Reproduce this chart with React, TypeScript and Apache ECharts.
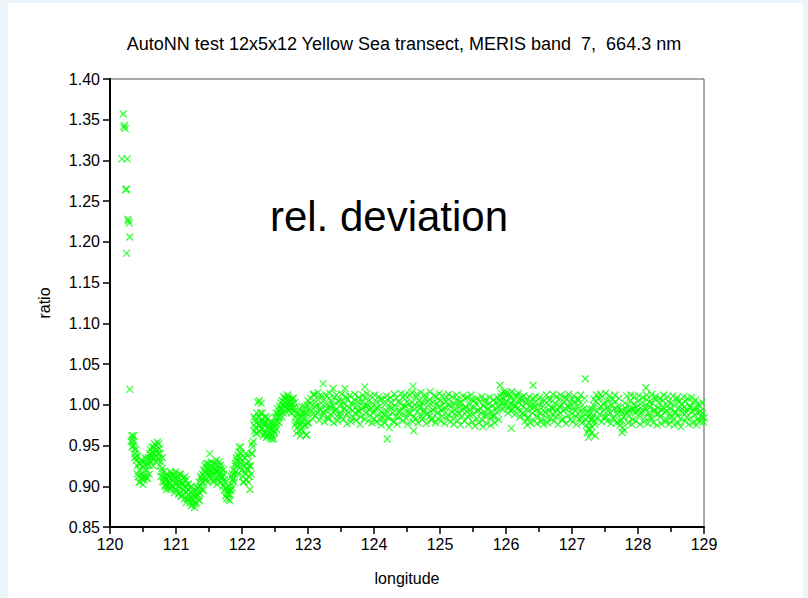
import React, { useEffect, useRef } from "react";
import * as echarts from "echarts";

const titleText = "AutoNN test 12x5x12 Yellow Sea transect, MERIS band  7,  664.3 nm";
const annotation = "rel. deviation";
const xName = "longitude";
const yName = "ratio";
const xTicks = [120, 121, 122, 123, 124, 125, 126, 127, 128, 129];
const yTicks = [0.85, 0.9, 0.95, 1.0, 1.05, 1.1, 1.15, 1.2, 1.25, 1.3, 1.35, 1.4];

const coastOutliers: number[][] = [
  [120.20, 1.357], [120.21, 1.341], [120.22, 1.343], [120.23, 1.339], [120.18, 1.302], [120.26, 1.302],
  [120.24, 1.264], [120.25, 1.265], [120.27, 1.228], [120.29, 1.223], [120.28, 1.226], [120.30, 1.206],
  [120.25, 1.186], [120.30, 1.019],
];

const nearShore: number[][] = [
  [120.32, .955], [120.33, .962], [120.34, .958], [120.35, .950], [120.36, .955], [120.37, .946], [120.38, .940],
  [120.39, .936], [120.40, .932], [120.41, .925], [120.42, .937], [120.43, .912], [120.44, .905], [120.45, .920],
  [120.46, .928], [120.47, .915], [120.48, .910], [120.49, .924], [120.50, .902], [120.51, .930], [120.52, .918],
  [120.53, .912], [120.54, .926], [120.55, .933], [120.56, .920], [120.57, .910], [120.58, .935], [120.59, .926],
  [120.60, .940], [120.61, .945], [120.62, .930], [120.63, .938], [120.64, .942], [120.65, .935], [120.66, .948],
  [120.67, .940], [120.68, .944], [120.69, .938], [120.70, .950], [120.71, .945], [120.72, .932], [120.73, .940],
  [120.74, .952], [120.75, .946], [120.76, .925], [120.77, .930], [120.78, .918], [120.79, .922], [120.80, .906],
  [120.81, .910], [120.82, .905], [120.83, .912], [120.84, .902], [120.85, .908], [120.86, .915], [120.87, .900],
  [120.88, .906], [120.89, .912], [120.90, .897], [120.91, .904], [120.92, .910], [120.93, .916], [120.94, .908],
  [120.95, .900], [120.96, .912], [120.97, .905], [120.98, .896], [120.99, .910], [121.00, .902],
  [120.335, .948], [120.355, .962], [120.375, .935], [120.395, .945], [120.415, .915], [120.435, .928], [120.455, .905],
  [120.475, .932], [120.495, .912], [120.515, .908], [120.535, .935], [120.555, .910], [120.575, .928], [120.595, .915],
  [120.615, .935], [120.635, .948], [120.655, .925], [120.675, .952], [120.695, .930], [120.715, .954], [120.735, .935],
  [120.755, .940], [120.775, .912], [120.795, .935], [120.815, .918], [120.835, .900], [120.855, .896], [120.875, .913],
  [120.895, .904], [120.915, .918], [120.935, .898], [120.955, .915], [120.975, .892], [120.995, .918],
];

const trough: number[][] = [
  [121.01, .895], [121.02, .908], [121.03, .912], [121.04, .900], [121.05, .892], [121.06, .905], [121.07, .915],
  [121.08, .898], [121.09, .888], [121.10, .902], [121.11, .910], [121.12, .895], [121.13, .885], [121.14, .900],
  [121.15, .908], [121.16, .892], [121.17, .884], [121.18, .896], [121.19, .903], [121.20, .889], [121.21, .880],
  [121.22, .893], [121.23, .900], [121.24, .886], [121.25, .878], [121.26, .890], [121.27, .882], [121.28, .874],
  [121.29, .887], [121.30, .895], [121.31, .880], [121.32, .890], [121.33, .898], [121.34, .884], [121.35, .905],
  [121.36, .892], [121.37, .900], [121.38, .910], [121.39, .896], [121.40, .915], [121.41, .905], [121.42, .920],
  [121.43, .912], [121.44, .925], [121.45, .918], [121.46, .908], [121.47, .922], [121.48, .915], [121.49, .928],
  [121.50, .912],
  [121.015, .905], [121.035, .890], [121.055, .915], [121.075, .888], [121.095, .905], [121.115, .895], [121.135, .912],
  [121.155, .880], [121.175, .902], [121.195, .885], [121.215, .898], [121.235, .876], [121.255, .895], [121.275, .888],
  [121.295, .878], [121.315, .898], [121.335, .888], [121.355, .882], [121.375, .912], [121.395, .905], [121.415, .895],
  [121.435, .918], [121.455, .928], [121.475, .905], [121.495, .920],
];

const shelfEdge: number[][] = [
  [121.51, .940], [121.52, .920], [121.53, .910], [121.54, .925], [121.55, .918], [121.56, .905], [121.57, .922],
  [121.58, .915], [121.59, .928], [121.60, .910], [121.61, .920], [121.62, .902], [121.63, .918], [121.64, .925],
  [121.65, .912], [121.66, .930], [121.67, .916], [121.68, .905], [121.69, .922], [121.70, .912], [121.71, .900],
  [121.72, .915], [121.73, .895], [121.74, .905], [121.75, .888], [121.76, .898], [121.77, .885], [121.78, .892],
  [121.79, .900], [121.80, .884], [121.81, .895], [121.82, .890], [121.83, .903], [121.84, .912], [121.85, .898],
  [121.86, .908], [121.87, .920], [121.88, .905], [121.89, .915], [121.90, .928], [121.91, .918], [121.92, .932],
  [121.93, .925], [121.94, .938], [121.95, .930], [121.96, .942], [121.97, .935], [121.98, .948], [121.99, .940],
  [122.00, .920], [122.01, .912], [122.02, .925], [122.03, .905], [122.04, .935], [122.05, .915], [122.06, .928],
  [122.07, .908], [122.08, .938], [122.09, .920], [122.10, .930], [122.11, .912], [122.12, .896], [122.13, .925],
  [122.14, .940], [122.15, .952], [122.16, .948], [122.17, .955],
  [121.515, .915], [121.535, .930], [121.555, .928], [121.575, .908], [121.595, .918], [121.615, .932], [121.635, .908],
  [121.655, .920], [121.675, .926], [121.695, .910], [121.715, .920], [121.735, .908], [121.755, .898], [121.775, .895],
  [121.795, .890], [121.815, .882], [121.835, .895], [121.855, .915], [121.875, .910], [121.895, .925], [121.915, .935],
  [121.935, .915], [121.955, .948], [121.975, .925], [121.995, .930], [122.015, .905], [122.035, .918], [122.055, .940],
  [122.075, .922], [122.095, .905], [122.115, .925], [122.135, .915], [122.155, .940],
];

const transition: number[][] = [
  [122.18, .975], [122.19, .968], [122.20, .982], [122.21, .972], [122.22, .978], [122.23, .965], [122.24, 1.003],
  [122.25, .985], [122.26, 1.005], [122.27, .975], [122.28, .990], [122.29, 1.002], [122.30, .970], [122.31, .982],
  [122.32, .962], [122.33, .975], [122.34, .985], [122.35, .968], [122.36, .978], [122.37, .960], [122.38, .972],
  [122.39, .983], [122.40, .965], [122.41, .975], [122.42, .960], [122.43, .970], [122.44, .965], [122.45, .978],
  [122.46, .962], [122.47, .970], [122.48, .958], [122.49, .966], [122.50, .985], [122.51, .975], [122.52, .990],
  [122.53, .980], [122.54, .995], [122.55, .985], [122.56, .992], [122.57, .998], [122.58, .988], [122.59, 1.002],
  [122.60, .995], [122.61, 1.005], [122.62, .990], [122.63, 1.010], [122.64, .998], [122.65, 1.003], [122.66, .992],
  [122.67, 1.008], [122.68, .996], [122.69, 1.012], [122.70, 1.000], [122.71, .993], [122.72, 1.006], [122.73, .998],
  [122.74, 1.004], [122.75, .990], [122.76, 1.002], [122.77, .995], [122.78, 1.008], [122.79, .997], [122.80, 1.003],
  [122.81, .985], [122.82, .978], [122.83, .990], [122.84, .972], [122.85, .982], [122.86, .968], [122.87, .995],
  [122.88, .975], [122.89, .988], [122.90, .970], [122.91, .998], [122.92, .980], [122.93, .992], [122.94, .975],
  [122.95, .998], [122.96, .985], [122.97, .963], [122.98, .990], [122.99, .978], [123.00, 1.005],
  [122.185, .985], [122.205, .965], [122.225, .990], [122.245, .975], [122.265, .968], [122.285, .980], [122.305, .990],
  [122.325, .978], [122.345, .965], [122.365, .985], [122.385, .962], [122.405, .978], [122.425, .972], [122.445, .958],
  [122.465, .975], [122.485, .968], [122.505, .978], [122.525, .970], [122.545, .985], [122.565, .978], [122.585, .995],
  [122.605, .985], [122.625, 1.000], [122.645, 1.008], [122.665, .998], [122.685, 1.005], [122.705, 1.010], [122.725, .995],
  [122.745, 1.000], [122.765, 1.008], [122.785, .992], [122.805, .975], [122.825, .965], [122.845, .988], [122.865, .978],
  [122.885, .962], [122.905, .985], [122.925, .968], [122.945, .990], [122.965, .975], [122.985, 1.000],
];

const openSea: number[][] = [
  [123.02, .995], [123.04, 1.008], [123.06, .988], [123.08, 1.012], [123.10, .998], [123.12, 1.004], [123.14, .990],
  [123.16, 1.010], [123.18, .996], [123.20, 1.002], [123.22, .987], [123.24, 1.006], [123.26, .993], [123.28, 1.000],
  [123.30, .985], [123.32, 1.008], [123.34, .997], [123.36, 1.003], [123.38, .991], [123.40, 1.009], [123.42, .994],
  [123.44, .986], [123.46, 1.005], [123.48, .998], [123.50, .990], [123.52, 1.004], [123.54, .995], [123.56, 1.001],
  [123.58, .988], [123.60, 1.007], [123.62, .996], [123.64, .984], [123.66, 1.002], [123.68, .993], [123.70, 1.006],
  [123.72, .989], [123.74, .999], [123.76, 1.004], [123.78, .992], [123.80, .985], [123.82, 1.003], [123.84, .997],
  [123.86, 1.008], [123.88, .990], [123.90, .999], [123.92, 1.005], [123.94, .987], [123.96, .996], [123.98, 1.002],
  [124.00, .983], [124.02, .995], [124.04, 1.004], [124.06, .988], [124.08, .998], [124.10, 1.007], [124.12, .991],
  [124.14, .984], [124.16, 1.000], [124.18, .993], [124.20, 1.006], [124.22, .986], [124.24, .997], [124.26, 1.003],
  [124.28, .990], [124.30, .980], [124.32, .999], [124.34, 1.008], [124.36, .992], [124.38, .985], [124.40, 1.002],
  [124.42, .995], [124.44, 1.009], [124.46, .988], [124.48, .998], [124.50, 1.004], [124.52, .990], [124.54, 1.012],
  [124.56, .996], [124.58, 1.003], [124.60, .985], [124.62, 1.000], [124.64, 1.010], [124.66, .992], [124.68, 1.005],
  [124.70, .997], [124.72, .986], [124.74, 1.002], [124.76, .994], [124.78, 1.008], [124.80, .989], [124.82, .999],
  [124.84, 1.006], [124.86, .992], [124.88, .984], [124.90, 1.003], [124.92, .996], [124.94, 1.010], [124.96, .990],
  [124.98, .998], [125.00, 1.005], [125.02, .993], [125.04, .986], [125.06, 1.002], [125.08, .996], [125.10, 1.009],
  [125.12, .988], [125.14, .999], [125.16, 1.004], [125.18, .991], [125.20, .983], [125.22, 1.001], [125.24, .995],
  [125.26, 1.007], [125.28, .989], [125.30, .998], [125.32, 1.003], [125.34, .986], [125.36, .996], [125.38, 1.008],
  [125.40, .992], [125.42, .985], [125.44, 1.000], [125.46, .994], [125.48, 1.006], [125.50, .988], [125.52, .997],
  [125.54, 1.002], [125.56, .983], [125.58, .993], [125.60, 1.004], [125.62, .990], [125.64, .981], [125.66, .998],
  [125.68, 1.003], [125.70, .987], [125.72, .995], [125.74, 1.001], [125.76, .984], [125.78, .992], [125.80, .999],
  [125.82, .986], [125.84, 1.003], [125.86, .991], [125.88, .997], [125.90, 1.005], [125.92, 1.010], [125.94, 1.003],
  [125.96, 1.008], [125.98, .998], [126.00, 1.012], [126.02, 1.004], [126.04, .997], [126.06, 1.009], [126.08, 1.001],
  [126.10, .994], [126.12, 1.006], [126.14, 1.000], [126.16, 1.010], [126.18, .996], [126.20, 1.003], [126.22, .992],
  [126.24, 1.005], [126.26, .998], [126.28, .988], [126.30, 1.002], [126.32, .994], [126.34, .985], [126.36, .999],
  [126.38, 1.004], [126.40, .990], [126.42, .997], [126.44, 1.003], [126.46, .986], [126.48, .995], [126.50, 1.001],
  [126.52, .989], [126.54, .982], [126.56, .998], [126.58, 1.005], [126.60, .991], [126.62, .984], [126.64, 1.000],
  [126.66, .993], [126.68, 1.007], [126.70, .988], [126.72, .996], [126.74, 1.002], [126.76, .985], [126.78, .994],
  [126.80, 1.006], [126.82, .990], [126.84, .999], [126.86, .983], [126.88, 1.003], [126.90, .995], [126.92, 1.008],
  [126.94, .987], [126.96, .997], [126.98, 1.002], [127.00, .989], [127.02, .996], [127.04, 1.004], [127.06, .986],
  [127.08, .998], [127.10, 1.007], [127.12, .992], [127.14, .984], [127.16, 1.000], [127.18, .995], [127.22, .975],
  [127.23, .966], [127.24, .985], [127.25, .960], [127.26, .978], [127.27, .970], [127.28, .990], [127.29, .982],
  [127.30, .973], [127.31, .995], [127.32, .987], [127.33, .999], [127.34, .980], [127.36, 1.004], [127.38, .992],
  [127.40, 1.008], [127.42, .988], [127.44, .998], [127.46, 1.010], [127.48, .993], [127.50, 1.003], [127.52, .985],
  [127.54, .997], [127.56, 1.006], [127.58, .990], [127.60, 1.000], [127.62, .984], [127.64, .995], [127.66, 1.004],
  [127.68, .989], [127.70, .998], [127.72, .980], [127.74, .993], [127.76, .966], [127.77, .972], [127.78, .985],
  [127.80, 1.002], [127.82, .991], [127.84, .999], [127.86, .986], [127.88, 1.005], [127.90, .994], [127.92, .982],
  [127.94, 1.001], [127.96, .990], [127.98, .997], [128.00, 1.004], [128.02, .987], [128.04, .996], [128.06, 1.003],
  [128.08, .992], [128.10, .984], [128.12, .999], [128.14, 1.006], [128.16, .990], [128.18, .997], [128.20, .983],
  [128.22, 1.002], [128.24, .993], [128.26, 1.007], [128.28, .988], [128.30, .996], [128.32, 1.003], [128.34, .985],
  [128.36, .994], [128.38, 1.005], [128.40, .991], [128.42, .982], [128.44, .998], [128.46, 1.004], [128.48, .989],
  [128.50, .995], [128.52, .981], [128.54, 1.000], [128.56, .992], [128.58, 1.006], [128.60, .987], [128.62, .996],
  [128.64, .983], [128.66, 1.001], [128.68, .990], [128.70, .997], [128.72, 1.004], [128.74, .985], [128.76, .993],
  [128.78, .999], [128.80, .984], [128.82, .992], [128.84, 1.003], [128.86, .988], [128.88, .995], [128.90, .982],
  [128.92, .991], [128.94, .998], [128.96, .985], [128.98, .990], [129.00, .984],
];

const openSeaSpread: number[][] = [
  [123.01, .978], [123.03, 1.001], [123.05, .992], [123.07, .983], [123.09, 1.013], [123.11, .987], [123.13, .999],
  [123.15, 1.015], [123.17, .981], [123.19, .994], [123.21, 1.011], [123.23, .990], [123.25, .979], [123.27, 1.012],
  [123.29, .996], [123.31, .982], [123.33, 1.014], [123.35, .988], [123.37, 1.000], [123.39, .978], [123.41, .993],
  [123.43, 1.012], [123.45, .980], [123.47, 1.004], [123.49, .986], [123.51, 1.013], [123.53, .982], [123.55, .996],
  [123.57, 1.010], [123.59, .977], [123.61, .991], [123.63, 1.011], [123.65, .979], [123.67, 1.000], [123.69, .984],
  [123.71, 1.013], [123.73, .981], [123.75, .993], [123.77, 1.009], [123.79, .976], [123.81, .995], [123.83, 1.012],
  [123.85, .983], [123.87, .998], [123.89, 1.014], [123.91, .980], [123.93, .994], [123.95, 1.011], [123.97, .978],
  [123.99, .990], [124.01, 1.012], [124.03, .979], [124.05, .996], [124.07, 1.010], [124.09, .982], [124.11, .975],
  [124.13, 1.007], [124.15, .988], [124.17, .978], [124.19, 1.011], [124.21, .984], [124.23, .972], [124.25, 1.009],
  [124.27, .996], [124.29, .979], [124.31, 1.013], [124.33, .986], [124.35, .976], [124.37, 1.004], [124.39, .992],
  [124.41, 1.014], [124.43, .980], [124.45, .997], [124.47, 1.012], [124.49, .983], [124.51, .976], [124.53, 1.001],
  [124.55, .990], [124.57, 1.015], [124.59, .979], [124.61, .995], [124.63, .983], [124.65, 1.013], [124.67, .978],
  [124.69, 1.000], [124.71, 1.015], [124.73, .982], [124.75, .991], [124.77, 1.012], [124.79, .977], [124.81, 1.004],
  [124.83, .985], [124.85, 1.016], [124.87, .981], [124.89, .994], [124.91, 1.011], [124.93, .978], [124.95, 1.002],
  [124.97, .983], [124.99, 1.014], [125.01, .980], [125.03, 1.011], [125.05, .995], [125.07, .977], [125.09, 1.004],
  [125.11, .984], [125.13, 1.013], [125.15, .979], [125.17, .998], [125.19, 1.010], [125.21, .976], [125.23, .989],
  [125.25, 1.012], [125.27, .981], [125.29, 1.003], [125.31, .975], [125.33, .993], [125.35, 1.011], [125.37, .980],
  [125.39, .997], [125.41, 1.009], [125.43, .976], [125.45, .988], [125.47, 1.012], [125.49, .979], [125.51, 1.005],
  [125.53, .974], [125.55, .992], [125.57, 1.008], [125.59, .978], [125.61, .996], [125.63, 1.010], [125.65, .973],
  [125.67, .987], [125.69, 1.007], [125.71, .977], [125.73, .994], [125.75, 1.009], [125.77, .975], [125.79, .986],
  [125.81, 1.006], [125.83, .978], [125.85, .995], [125.87, 1.009], [125.89, .982], [125.91, 1.000], [125.93, 1.014],
  [125.95, .994], [125.97, 1.016], [125.99, 1.003], [126.01, 1.015], [126.03, .990], [126.05, 1.013], [126.07, .993],
  [126.09, 1.016], [126.11, 1.000], [126.13, .988], [126.15, 1.012], [126.17, .995], [126.19, 1.014], [126.21, .985],
  [126.23, 1.009], [126.25, .990], [126.27, 1.011], [126.29, .980], [126.31, 1.006], [126.33, .983], [126.35, 1.010],
  [126.37, .978], [126.39, .996], [126.41, 1.008], [126.43, .980], [126.45, 1.010], [126.47, .977], [126.49, .992],
  [126.51, 1.009], [126.53, .979], [126.55, 1.003], [126.57, .976], [126.59, .991], [126.61, 1.012], [126.63, .978],
  [126.65, 1.006], [126.67, .983], [126.69, .996], [126.71, 1.013], [126.73, .980], [126.75, .991], [126.77, 1.010],
  [126.79, .976], [126.81, .998], [126.83, 1.012], [126.85, .981], [126.87, .993], [126.89, 1.009], [126.91, .977],
  [126.93, .998], [126.95, 1.013], [126.97, .982], [126.99, 1.006], [127.01, .979], [127.03, 1.011], [127.05, .993],
  [127.07, .976], [127.09, 1.005], [127.11, .983], [127.13, 1.012], [127.15, .978], [127.17, .991], [127.19, 1.008],
  [127.21, .982], [127.23, .990], [127.25, .970], [127.27, .995], [127.29, .965], [127.31, .984], [127.33, 1.007],
  [127.35, .976], [127.37, 1.012], [127.39, .983], [127.41, .996], [127.43, 1.013], [127.45, .979], [127.47, 1.001],
  [127.49, .985], [127.51, 1.014], [127.53, .980], [127.55, .993], [127.57, 1.011], [127.59, .977], [127.61, 1.006],
  [127.63, .983], [127.65, 1.012], [127.67, .978], [127.69, .994], [127.71, 1.008], [127.73, .975], [127.75, .981],
  [127.77, .990], [127.79, .969], [127.81, .996], [127.83, 1.011], [127.85, .978], [127.87, .993], [127.89, 1.012],
  [127.91, .976], [127.93, .995], [127.95, 1.010], [127.97, .980], [127.99, .993], [128.01, 1.011], [128.03, .976],
  [128.05, .991], [128.07, 1.009], [128.09, .979], [128.11, .996], [128.13, 1.012], [128.15, .977], [128.17, 1.004],
  [128.19, .985], [128.21, 1.013], [128.23, .978], [128.25, .994], [128.27, 1.010], [128.29, .975], [128.31, .989],
  [128.33, 1.008], [128.35, .977], [128.37, .997], [128.39, 1.012], [128.41, .979], [128.43, .992], [128.45, 1.010],
  [128.47, .976], [128.49, 1.002], [128.51, .985], [128.53, 1.011], [128.55, .975], [128.57, .990], [128.59, 1.009],
  [128.61, .978], [128.63, 1.004], [128.65, .973], [128.67, .995], [128.69, 1.010], [128.71, .980], [128.73, .991],
  [128.75, 1.008], [128.77, .976], [128.79, .997], [128.81, 1.009], [128.83, .978], [128.85, .994], [128.87, 1.006],
  [128.89, .975], [128.91, 1.001], [128.93, .980], [128.95, .992], [128.97, 1.003], [128.99, .979],
];

const openSeaOutliers: number[][] = [
  [123.23, 1.026], [123.38, 1.020], [123.56, 1.020], [123.86, 1.022], [122.98, 0.963], [124.20, 0.958],
  [124.59, 1.023], [124.60, 0.968], [125.91, 1.024], [126.08, 0.971], [126.32, 0.975], [126.41, 1.024],
  [127.20, 1.032], [128.12, 1.021], [127.35, 0.962],
];

const FONT = "'Liberation Sans', Arial, sans-serif";

export default function App() {
  const ref = useRef<HTMLDivElement>(null);
  useEffect(() => {
    if (!ref.current) return;
    const chart = echarts.init(ref.current, null, { renderer: "svg" });
    const all = [
      ...coastOutliers, ...nearShore, ...trough, ...shelfEdge, ...transition,
      ...openSea, ...openSeaSpread, ...openSeaOutliers,
    ];
    chart.setOption({
      animation: false,
      backgroundColor: "#ecf5f9",
      textStyle: { fontFamily: FONT },
      title: {
        text: titleText,
        left: "center",
        top: 30,
        textStyle: { fontFamily: FONT, fontSize: 18, fontWeight: "normal", color: "#000" },
      },
      graphic: [
        {
          type: "rect",
          z: -100,
          silent: true,
          shape: { x: 8, y: 3, width: 795, height: 600 },
          style: { fill: "#ffffff" },
        },
        {
          type: "text",
          x: 389,
          y: 216,
          style: {
            text: annotation,
            font: `42px ${FONT}`,
            fill: "#000",
            align: "center",
            verticalAlign: "middle",
          },
        },
      ],
      grid: {
        left: 110,
        right: 104,
        top: 79,
        bottom: 71,
        show: true,
        borderColor: "#555",
        borderWidth: 1,
        backgroundColor: "#fff",
      },
      xAxis: {
        type: "value",
        min: xTicks[0],
        max: xTicks[xTicks.length - 1],
        interval: 1,
        name: xName,
        nameLocation: "middle",
        nameGap: 43,
        nameTextStyle: { fontFamily: FONT, fontSize: 16, color: "#000" },
        axisLine: { show: true, onZero: false, lineStyle: { color: "#000", width: 2 } },
        axisTick: { show: true, length: 7, lineStyle: { color: "#000", width: 1.5 } },
        minorTick: { show: true, splitNumber: 2, length: 5, lineStyle: { color: "#000", width: 1.5 } },
        axisLabel: { fontFamily: FONT, fontSize: 16, color: "#000", margin: 9 },
        splitLine: { show: false },
      },
      yAxis: {
        type: "value",
        min: yTicks[0],
        max: yTicks[yTicks.length - 1],
        interval: 0.05,
        name: yName,
        nameLocation: "middle",
        nameGap: 58,
        nameRotate: 90,
        nameTextStyle: { fontFamily: FONT, fontSize: 16, color: "#000" },
        axisLine: { show: true, onZero: false, lineStyle: { color: "#000", width: 2 } },
        axisTick: { show: true, length: 7, lineStyle: { color: "#000", width: 1.5 } },
        axisLabel: {
          fontFamily: FONT,
          fontSize: 16,
          color: "#000",
          margin: 10,
          formatter: (v: number) => v.toFixed(2),
        },
        splitLine: { show: false },
      },
      series: [
        {
          type: "scatter",
          data: all,
          symbol: "path://M0 0L10 10M10 0L0 10",
          symbolSize: 7,
          itemStyle: { color: "#00ff00", borderColor: "#00ff00", borderWidth: 1.2 },
          emphasis: { disabled: true },
        },
      ],
    });
    return () => chart.dispose();
  }, []);
  return (
    <div
      ref={ref}
      style={{ position: "absolute", left: 0, top: 0, width: 808, height: 598 }}
    />
  );
}
